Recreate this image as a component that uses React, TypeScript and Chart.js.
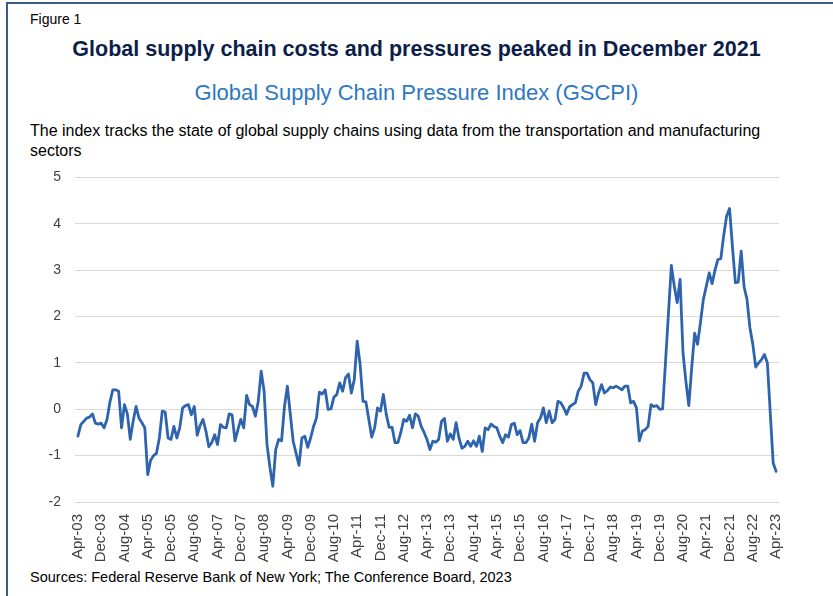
import React, { useEffect, useRef } from "react";
import { Chart, registerables } from "chart.js";

Chart.register(...registerables);

// Monthly GSCPI, Apr-03 ... Apr-23 (241 months)
const startMonth = "Apr-03";
const gscpi: number[] = [
  -0.58, -0.33, -0.26, -0.19, -0.17, -0.10, -0.30, -0.32, -0.30, -0.40,
  -0.22, 0.15, 0.42, 0.42, 0.39, -0.40, 0.10, -0.10, -0.65, -0.25,
  0.06, -0.19, -0.29, -0.40, -1.41, -1.10, -1.00, -0.95, -0.62, -0.04,
  -0.06, -0.62, -0.65, -0.37, -0.62, -0.40, 0.03, 0.08, 0.10, -0.12,
  0.06, -0.56, -0.35, -0.22, -0.47, -0.81, -0.72, -0.55, -0.76, -0.33,
  -0.39, -0.40, -0.10, -0.12, -0.68, -0.44, -0.22, -0.40, 0.30, 0.10,
  0.06, -0.15, 0.17, 0.82, 0.39, -0.76, -1.25, -1.66, -0.87, -0.65,
  -0.68, 0.05, 0.50, -0.10, -0.69, -0.95, -1.21, -0.62, -0.58, -0.82,
  -0.62, -0.37, -0.19, 0.37, 0.33, 0.42, 0.00, 0.01, 0.26, 0.32,
  0.57, 0.39, 0.68, 0.76, 0.35, 0.64, 1.47, 0.97, 0.17, 0.16,
  -0.22, -0.60, -0.40, 0.03, -0.04, 0.32, -0.11, -0.39, -0.39, -0.72,
  -0.72, -0.50, -0.22, -0.26, -0.13, -0.40, -0.10, -0.15, -0.37, -0.50,
  -0.65, -0.87, -0.69, -0.71, -0.65, -0.26, -0.20, -0.69, -0.53, -0.65,
  -0.29, -0.62, -0.84, -0.80, -0.69, -0.80, -0.68, -0.80, -0.58, -0.91,
  -0.40, -0.44, -0.32, -0.37, -0.40, -0.58, -0.72, -0.55, -0.60, -0.33,
  -0.30, -0.55, -0.46, -0.72, -0.72, -0.62, -0.32, -0.69, -0.29, -0.19,
  0.03, -0.29, -0.04, -0.29, -0.22, 0.17, 0.14, 0.03, -0.11, 0.05,
  0.10, 0.14, 0.39, 0.50, 0.78, 0.78, 0.64, 0.57, 0.10, 0.35,
  0.53, 0.35, 0.40, 0.48, 0.46, 0.50, 0.46, 0.42, 0.50, 0.50,
  0.14, 0.17, 0.03, -0.68, -0.47, -0.44, -0.37, 0.10, 0.06, 0.08,
  0.00, 0.01, 1.03, 2.07, 3.10, 2.66, 2.30, 2.80, 1.22, 0.60,
  0.08, 0.90, 1.64, 1.40, 1.87, 2.37, 2.65, 2.94, 2.71, 3.00,
  3.23, 3.25, 3.75, 4.17, 4.33, 3.50, 2.73, 2.74, 3.41, 2.64,
  2.37, 1.76, 1.40, 0.91, 1.00, 1.07, 1.18, 1.00, -0.08, -1.16,
  -1.34,
];

// x-axis tick labels, one every 8 months starting at Apr-03
const tickLabels: string[] = [
  "Apr-03", "Dec-03", "Aug-04", "Apr-05", "Dec-05", "Aug-06", "Apr-07", "Dec-07",
  "Aug-08", "Apr-09", "Dec-09", "Aug-10", "Apr-11", "Dec-11", "Aug-12", "Apr-13",
  "Dec-13", "Aug-14", "Apr-15", "Dec-15", "Aug-16", "Apr-17", "Dec-17", "Aug-18",
  "Apr-19", "Dec-19", "Aug-20", "Apr-21", "Dec-21", "Aug-22", "Apr-23",
];
const tickStep = 8;

const yTicks: number[] = [-2, -1, 0, 1, 2, 3, 4, 5];

const FONT = "'Liberation Sans', Arial, sans-serif";

export default function App() {
  const canvasRef = useRef<HTMLCanvasElement | null>(null);

  useEffect(() => {
    if (!canvasRef.current) return;
    const points = gscpi.map((v, i) => ({ x: i, y: v }));
    const chart = new Chart(canvasRef.current, {
      type: "line",
      data: {
        datasets: [
          {
            label: "GSCPI (" + startMonth + " onward)",
            data: points,
            borderColor: "#2E64AE",
            borderWidth: 2.8,
            borderJoinStyle: "round",
            borderCapStyle: "round",
            pointRadius: 0,
            tension: 0,
            fill: false,
          },
        ],
      },
      options: {
        animation: false,
        responsive: false,
        maintainAspectRatio: false,
        layout: { padding: { top: 16, right: 54, left: 0, bottom: 0 } },
        plugins: { legend: { display: false }, tooltip: { enabled: false } },
        scales: {
          x: {
            type: "linear",
            min: -1,
            max: gscpi.length,
            grid: { display: false },
            border: { display: false },
            afterBuildTicks: (scale: any) => {
              scale.ticks = tickLabels.map((_, k) => ({ value: k * tickStep }));
            },
            afterFit: (scale: any) => {
              scale.height = 63;
            },
            ticks: {
              autoSkip: false,
              maxRotation: 90,
              minRotation: 90,
              padding: 4,
              color: "#404040",
              font: { family: FONT, size: 15 },
              callback: (v: any) => tickLabels[Math.round(Number(v) / tickStep)] ?? "",
            },
          },
          y: {
            min: yTicks[0],
            max: yTicks[yTicks.length - 1],
            grid: { color: "#D9D9D9", lineWidth: 1, drawTicks: false },
            border: { display: false },
            afterFit: (scale: any) => {
              scale.width = 75;
            },
            ticks: {
              stepSize: 1,
              padding: 14,
              color: "#404040",
              font: { family: FONT, size: 14 },
            },
          },
        },
      },
    });
    return () => chart.destroy();
  }, []);

  return (
    <div
      style={{
        position: "absolute",
        left: 0,
        top: 0,
        width: 833,
        height: 596,
        background: "#fff",
        overflow: "hidden",
        fontFamily: FONT,
      }}
    >
      <div
        style={{
          position: "absolute",
          left: 6,
          top: 2,
          width: 900,
          height: 700,
          borderLeft: "2px solid #3A5A8C",
          borderTop: "2px solid #3A5A8C",
        }}
      />
      <div style={{ position: "absolute", left: 30, top: 11, fontSize: 14, color: "#000" }}>Figure 1</div>
      <div
        style={{
          position: "absolute",
          left: 0,
          width: 833,
          top: 37,
          textAlign: "center",
          fontSize: 21.5,
          fontWeight: "bold",
          color: "#0C1E4A",
          whiteSpace: "nowrap",
        }}
      >
        Global supply chain costs and pressures peaked in December 2021
      </div>
      <div
        style={{
          position: "absolute",
          left: 0,
          width: 833,
          top: 80,
          textAlign: "center",
          fontSize: 22,
          color: "#2E78C2",
          whiteSpace: "nowrap",
        }}
      >
        Global Supply Chain Pressure Index (GSCPI)
      </div>
      <div
        style={{
          position: "absolute",
          left: 30,
          top: 121,
          fontSize: 16,
          lineHeight: "20px",
          color: "#000",
          whiteSpace: "nowrap",
        }}
      >
        The index tracks the state of global supply chains using data from the transportation and manufacturing
        <br />
        sectors
      </div>
      <canvas
        ref={canvasRef}
        width={833}
        height={410}
        style={{ position: "absolute", left: 0, top: 155, width: 833, height: 410 }}
      />
      <div style={{ position: "absolute", left: 30, top: 569, fontSize: 14.5, color: "#000", whiteSpace: "nowrap" }}>
        Sources: Federal Reserve Bank of New York; The Conference Board, 2023
      </div>
    </div>
  );
}
